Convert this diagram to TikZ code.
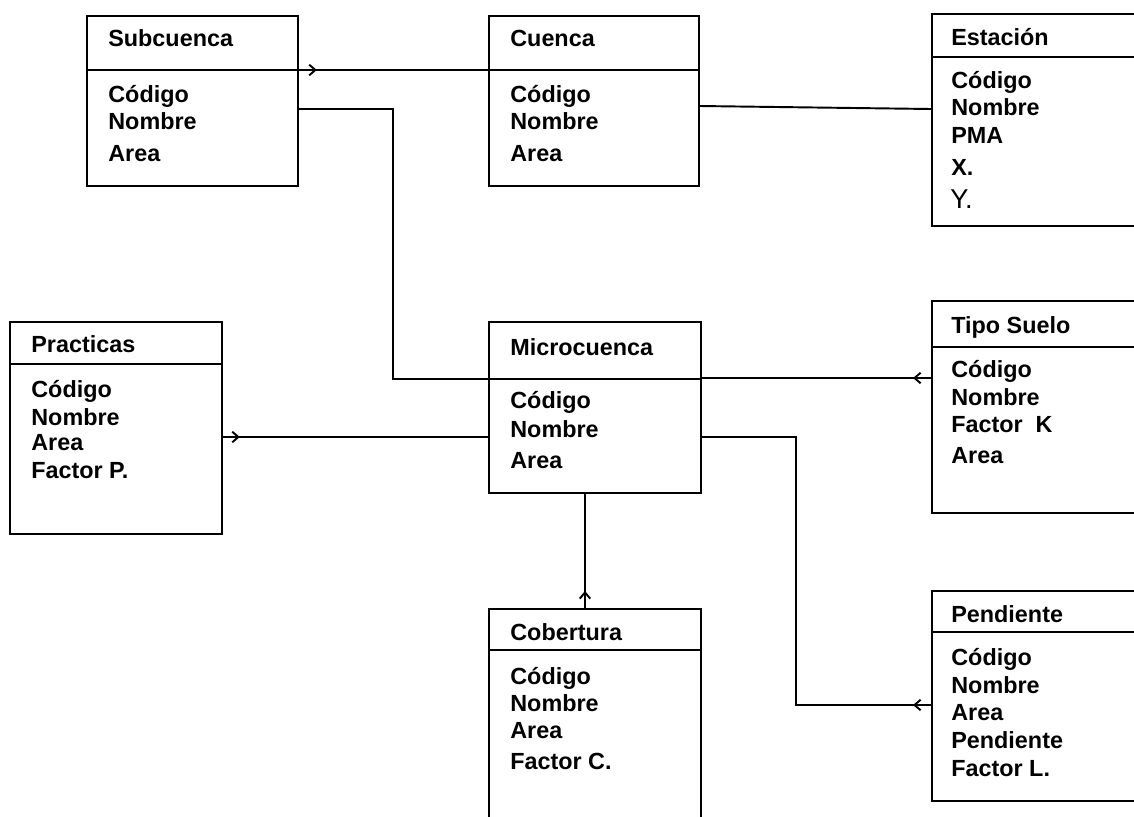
\documentclass[tikz,border=0pt]{standalone}
\usepackage{fontspec}
\setmainfont{Liberation Sans}
\usetikzlibrary{positioning,arrows.meta}

\tikzset{
  entity/.style={draw, line width=1.1pt, anchor=north west, inner sep=0pt},
  rotulo/.style={anchor=base west, inner sep=0pt, font=\bfseries\fontsize{13.3}{15}\selectfont},
  campo/.style={anchor=base west, inner sep=0pt, font=\bfseries\fontsize{13.3}{15}\selectfont},
  link/.style={line width=1.1pt},
  >={Straight Barb[length=3.5pt, width=6pt]}
}

\begin{document}
\begin{tikzpicture}[x=0.02cm, y=-0.02cm]
    \clip (0,0) rectangle (1134,816);

    % entidades
    \node[entity, minimum width=4.22cm, minimum height=3.4cm] (sub) at (86,15) {};
    \node[entity, minimum width=4.2cm, minimum height=3.4cm] (cue) at (488,15) {};
    \node[entity, minimum width=4.4cm, minimum height=4.24cm] (est) at (931,13) {};
    \node[entity, minimum width=4.24cm, minimum height=4.24cm] (pra) at (9,321) {};
    \node[entity, minimum width=4.24cm, minimum height=3.42cm] (mic) at (488,321) {};
    \node[entity, minimum width=4.4cm, minimum height=4.24cm] (suelo) at (931,300) {};
    \node[entity, minimum width=4.24cm, minimum height=4.6cm] (cob) at (488,608) {};
    \node[entity, minimum width=4.4cm, minimum height=4.2cm] (pen) at (931,590) {};

    % lineas de cabecera
    \draw[link] (sub.west |- 0,70) -- (sub.east |- 0,70);
    \draw[link] (cue.west |- 0,70) -- (cue.east |- 0,70);
    \draw[link] (est.west |- 0,57) -- (est.east |- 0,57);
    \draw[link] (pra.west |- 0,364) -- (pra.east |- 0,364);
    \draw[link] (mic.west |- 0,379) -- (mic.east |- 0,379);
    \draw[link] (suelo.west |- 0,347) -- (suelo.east |- 0,347);
    \draw[link] (cob.west |- 0,650) -- (cob.east |- 0,650);
    \draw[link] (pen.west |- 0,632) -- (pen.east |- 0,632);

    % textos
    \node[rotulo] (sub-t) at (108,46) {Subcuenca};
    \foreach \t/\y [count=\i] in {Código/102, Nombre/129, Area/161}
        \node[campo] (sub-\i) at (108,\y) {\t};
    \node[rotulo] (cue-t) at (510,46) {Cuenca};
    \foreach \t/\y [count=\i] in {Código/102, Nombre/129, Area/161}
        \node[campo] (cue-\i) at (510,\y) {\t};
    \node[rotulo] (est-t) at (951,45) {Estación};
    \foreach \t/\y [count=\i] in {Código/88, Nombre/115, PMA/143, X./175}
        \node[campo] (est-\i) at (951,\y) {\t};
    \node[anchor=base west, inner sep=0pt, font=\fontsize{15.5}{17}\selectfont] (est-5) at (950,208) {Y.};
    \node[rotulo] (pra-t) at (31,352) {Practicas};
    \foreach \t/\y [count=\i] in {Código/397, Nombre/425, Area/450, Factor P./478}
        \node[campo] (pra-\i) at (31,\y) {\t};
    \node[rotulo] (mic-t) at (510,355) {Microcuenca};
    \foreach \t/\y [count=\i] in {Código/408, Nombre/437, Area/468}
        \node[campo] (mic-\i) at (510,\y) {\t};
    \node[rotulo] (suelo-t) at (951,333) {Tipo Suelo};
    \foreach \t/\y [count=\i] in {Código/377, Nombre/405, Factor\ \ K/432, Area/463}
        \node[campo] (suelo-\i) at (951,\y) {\t};
    \node[rotulo] (cob-t) at (510,640) {Cobertura};
    \foreach \t/\y [count=\i] in {Código/684, Nombre/711, Area/738, Factor C./769}
        \node[campo] (cob-\i) at (510,\y) {\t};
    \node[rotulo] (pen-t) at (951,622) {Pendiente};
    \foreach \t/\y [count=\i] in {Código/665, Nombre/693, Area/720, Pendiente/748, Factor L./776}
        \node[campo] (pen-\i) at (951,\y) {\t};

    % relaciones
    \draw[link] (sub.east |- 0,70) -- (cue.west |- 0,70);
    \draw[link, ->] (sub.east |- 0,70) -- ++(18,0);
    \draw[link] (sub.east |- 0,109) -- (393,109) |- (mic.west |- 0,379);
    \draw[link] (cue.east |- 0,106) -- (est.west |- 0,109);
    \draw[link] (mic.east |- 0,378) -- (suelo.west |- 0,378);
    \draw[link, ->] (suelo.west |- 0,378) -- ++(-18,0);
    \draw[link] (pra.east |- 0,437) -- (mic.west |- 0,437);
    \draw[link, ->] (pra.east |- 0,437) -- ++(17,0);
    \draw[link] (mic.east |- 0,437) -- (796,437) |- (pen.west |- 0,705);
    \draw[link, ->] (pen.west |- 0,705) -- ++(-18,0);
    \draw[link] (mic.south -| 585,0) -- (cob.north -| 585,0);
    \draw[link, ->] (cob.north -| 585,0) -- ++(0,-17);
\end{tikzpicture}
\end{document}
